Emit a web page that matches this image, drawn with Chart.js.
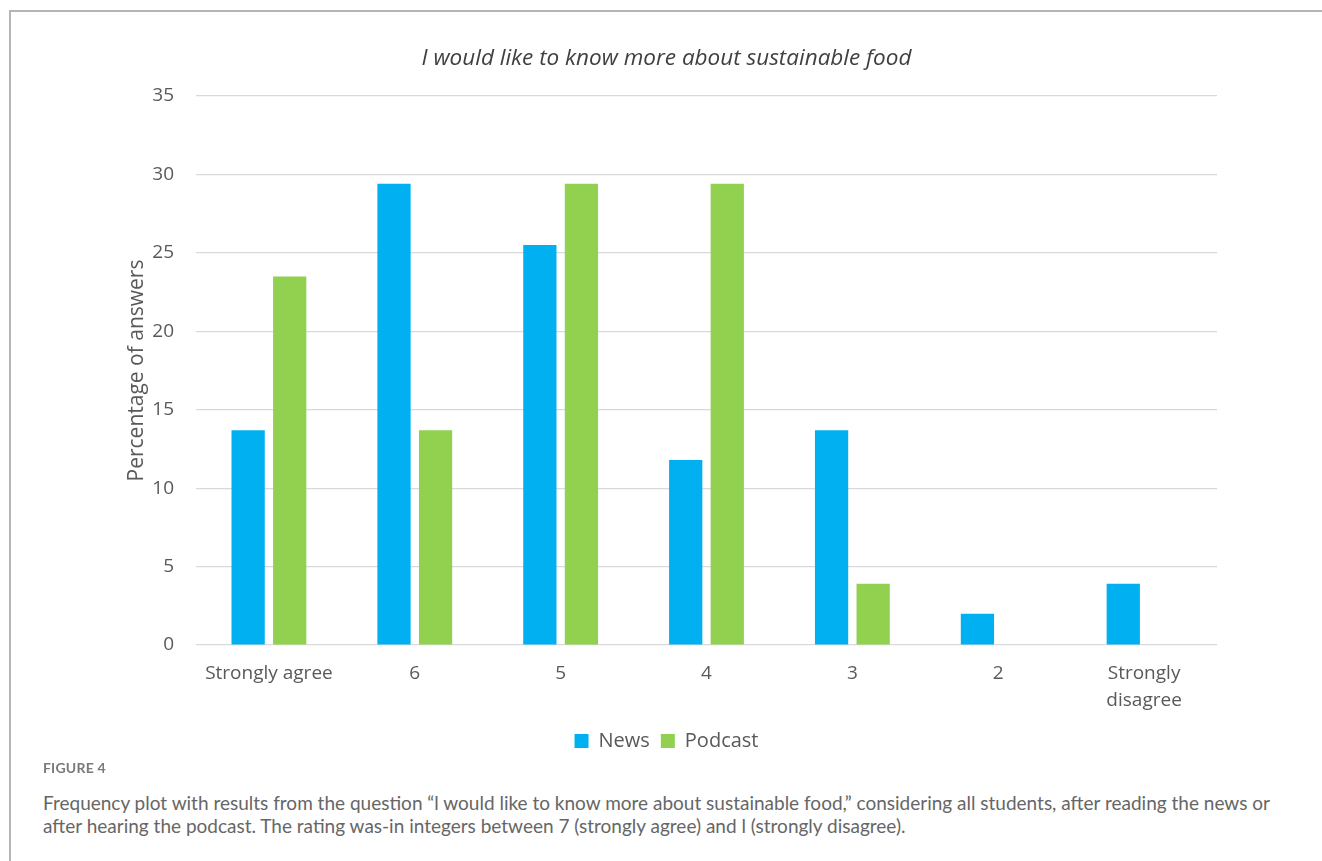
<!DOCTYPE html>
<html>
<head>
<meta charset="utf-8">
<script src="https://cdn.jsdelivr.net/npm/chart.js@4.4.1/dist/chart.umd.min.js"></script>
<style>
  html, body { margin: 0; padding: 0; background: #fff; }
  body { width: 1322px; height: 861px; position: relative; overflow: hidden; }
  #frame {
    position: absolute; left: 9px; top: 10px; width: 1313px; height: 851px;
    border-left: 2px solid #b5b5b5; border-top: 2px solid #b5b5b5;
  }
  #chartBox { position: absolute; left: 11px; top: 12px; width: 1311px; height: 752px; }
  #figLabel {
    position: absolute; left: 43px; top: 759px;
    font-family: Lato, "Open Sans", sans-serif; font-size: 14px; font-weight: bold;
    color: #7a7a7a; letter-spacing: 0.2px;
  }
  #caption {
    position: absolute; left: 43px; top: 791px; width: 1270px;
    font-family: Lato, "Open Sans", sans-serif; font-size: 19px; line-height: 23px;
    color: #666666;
  }
</style>
</head>
<body>
<div id="frame"></div>
<div id="chartBox"><canvas id="barChart"></canvas></div>
<div id="figLabel">FIGURE 4</div>
<div id="caption">Frequency plot with results from the question “l would like to know more about sustainable food,” considering all students, after reading the news or<br>after hearing the podcast. The rating was-in integers between 7 (strongly agree) and l (strongly disagree).</div>

<script>
// categories (rating 7 -> 1)
var categories = ['Strongly agree', '6', '5', '4', '3', '2', ['Strongly', 'disagree']];

// percentage of answers
var newsValues    = [13.7, 29.4, 25.5, 11.8, 13.7, 2.0, 3.9];
var podcastValues = [23.5, 13.7, 29.4, 29.4, 3.9, 0, 0];

var yTicks = [0, 5, 10, 15, 20, 25, 30, 35];

var textColor = '#595959';

var barChartData = {
  labels: categories,
  datasets: [{
    label: 'News',
    backgroundColor: '#00b0f0',
    data: newsValues
  }, {
    label: 'Podcast',
    backgroundColor: '#92d050',
    data: podcastValues
  }]
};

var config = {
  type: 'bar',
  data: barChartData,
  options: {
    responsive: true,
    maintainAspectRatio: false,
    animation: false,
    layout: { padding: { top: 20, right: 0, bottom: 3, left: 0 } },
    datasets: {
      bar: { categoryPercentage: 0.57, barPercentage: 0.8 }
    },
    plugins: {
      title: {
        display: true,
        text: 'I would like to know more about sustainable food',
        color: '#404040',
        font: { family: 'Open Sans', size: 22.5, style: 'italic', weight: 'normal' },
        padding: { top: 13, bottom: 24 }
      },
      legend: {
        position: 'bottom',
        labels: {
          color: textColor,
          font: { family: 'Open Sans', size: 20 },
          boxWidth: 14, boxHeight: 14,
          padding: 11
        }
      },
      tooltip: { enabled: false }
    },
    scales: {
      x: {
        afterFit: function (axis) { axis.height = axis.height - 9; },
        grid: { display: false, drawTicks: false },
        border: { display: false },
        ticks: {
          color: textColor,
          font: { family: 'Open Sans', size: 19, lineHeight: 1.42 },
          padding: 15,
          maxRotation: 0
        }
      },
      y: {
        min: 0, max: 35,
        afterBuildTicks: function (axis) {
          axis.ticks = yTicks.map(function (v) { return { value: v }; });
        },
        afterFit: function (axis) { axis.width = 185; },
        grid: { color: '#d9d9d9', lineWidth: 1.3, drawTicks: false },
        border: { display: false },
        ticks: {
          color: textColor,
          font: { family: 'Open Sans', size: 19 },
          padding: 22
        },
        title: {
          display: true,
          text: 'Percentage of answers',
          color: textColor,
          font: { family: 'Open Sans', size: 21 },
          padding: { top: 113, bottom: 6 }
        }
      },
      // empty right axis that only keeps space on the right of the plot
      yRight: {
        position: 'right',
        display: true,
        afterFit: function (axis) { axis.width = 105; },
        grid: { display: false, drawTicks: false },
        border: { display: false },
        ticks: { display: false }
      }
    }
  }
};

var barChart = new Chart(document.getElementById('barChart').getContext('2d'), config);
</script>
</body>
</html>
